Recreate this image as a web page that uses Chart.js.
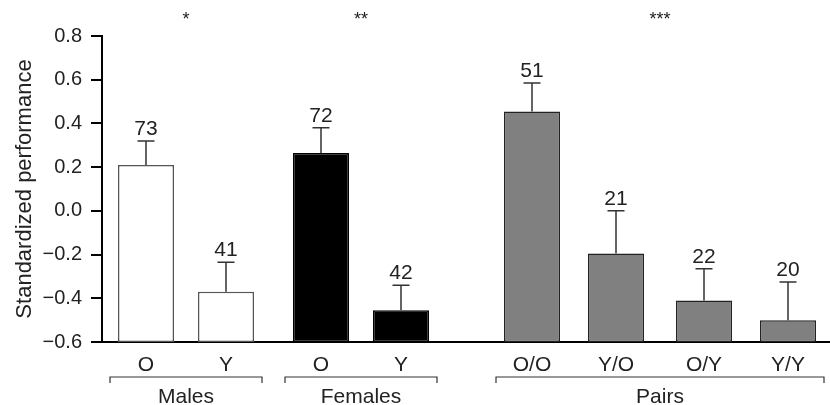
<!DOCTYPE html>
<html>
<head>
<meta charset="utf-8">
<script src="https://cdn.jsdelivr.net/npm/chart.js@4.4.1/dist/chart.umd.min.js"></script>
<style>
  html, body { margin: 0; padding: 0; background: #fff; }
  #wrap { width: 830px; height: 405px; }
</style>
</head>
<body>
<div id="wrap"><canvas id="chart"></canvas></div>
<script>
// data
const barLabels = ["O", "Y", "O", "Y", "O/O", "Y/O", "O/Y", "Y/Y"];
const means = [0.21, -0.37, 0.265, -0.455, 0.455, -0.195, -0.41, -0.50];
const errTop = [0.32, -0.235, 0.38, -0.34, 0.585, 0.0, -0.265, -0.325];
const counts = [73, 41, 72, 42, 51, 21, 22, 20];
const groupNames = ["Males", "Females", "Pairs"];
const groupStars = ["*", "**", "***"];
const groupFirst = [0, 2, 4];
const groupLast = [1, 3, 7];
const yMin = -0.6, yMax = 0.8, yStep = 0.2;

// layout / style
const slotX = [44, 124, 219, 299, 430, 514, 602, 686];
const xRange = 728;
const barW = 56;
const barFill = ["#ffffff", "#ffffff", "#000000", "#000000", "#808080", "#808080", "#808080", "#808080"];
const barEdge = ["#555555", "#555555", "#000000", "#000000", "#222222", "#222222", "#222222", "#222222"];
const FONT = "'Liberation Sans', Arial, sans-serif";
const INK = "#222";

document.addEventListener("DOMContentLoaded", function () {
  const ctx = document.getElementById("chart");

  const extras = {
    id: "extras",
    afterDatasetsDraw(chart) {
      const c = chart.ctx;
      const x = chart.scales.x, y = chart.scales.y;
      c.save();

      // error bars + n labels
      c.strokeStyle = "#333";
      c.lineWidth = 1.5;
      c.fillStyle = INK;
      c.font = "21px " + FONT;
      c.textAlign = "center";
      c.textBaseline = "alphabetic";
      for (let i = 0; i < means.length; i++) {
        const px = x.getPixelForValue(slotX[i]);
        const py0 = y.getPixelForValue(means[i]);
        const py1 = y.getPixelForValue(errTop[i]);
        c.beginPath();
        c.moveTo(px, py0);
        c.lineTo(px, py1);
        c.moveTo(px - 8.5, py1);
        c.lineTo(px + 8.5, py1);
        c.stroke();
        c.fillText(String(counts[i]), px, py1 - 6);
      }

      // group brackets, names and stars
      const bracketY = 377;
      c.strokeStyle = "#333";
      c.lineWidth = 1.2;
      for (let g = 0; g < groupNames.length; g++) {
        const left = x.getPixelForValue(slotX[groupFirst[g]]) - barW / 2 - 8;
        const right = x.getPixelForValue(slotX[groupLast[g]]) + barW / 2 + 8;
        c.beginPath();
        c.moveTo(left, bracketY + 6);
        c.lineTo(left, bracketY);
        c.lineTo(right, bracketY);
        c.lineTo(right, bracketY + 6);
        c.stroke();
        const mid = (left + right) / 2;
        c.font = "21px " + FONT;
        c.textBaseline = "alphabetic";
        c.fillText(groupNames[g], mid, 403);
        c.font = "18px " + FONT;
        c.textBaseline = "middle";
        c.fillText(groupStars[g], mid, 20);
      }
      c.restore();
    }
  };

  new Chart(ctx, {
    type: "bar",
    data: {
      datasets: [{
        data: means.map((m, i) => ({ x: slotX[i], y: [yMin, m] })),
        backgroundColor: barFill,
        borderColor: barEdge,
        borderWidth: 1.5,
        borderSkipped: false,
        inflateAmount: 0,
        barThickness: barW
      }]
    },
    options: {
      responsive: true,
      maintainAspectRatio: false,
      animation: false,
      layout: { padding: { top: 36, right: 0, left: 0, bottom: 0 } },
      plugins: {
        legend: { display: false },
        tooltip: { enabled: false }
      },
      scales: {
        x: {
          type: "linear",
          min: 0,
          max: xRange,
          offset: false,
          z: 1,
          afterBuildTicks: (scale) => { scale.ticks = slotX.map(v => ({ value: v })); },
          afterFit: (scale) => { scale.height = 63; },
          grid: { display: false },
          border: { display: true, color: "#000", width: 2 },
          ticks: {
            color: INK,
            font: { family: FONT, size: 21 },
            padding: 3,
            maxRotation: 0,
            autoSkip: false,
            callback: (v, i) => barLabels[i]
          }
        },
        y: {
          min: yMin,
          max: yMax,
          afterFit: (scale) => { scale.width = 102; },
          afterBuildTicks: (scale) => {
            const t = [];
            for (let k = 0; k <= Math.round((yMax - yMin) / yStep); k++) t.push({ value: yMin + k * yStep });
            scale.ticks = t;
          },
          grid: { drawOnChartArea: false, drawTicks: true, tickLength: 11, color: "#000", lineWidth: 2 },
          border: { display: true, color: "#000", width: 2 },
          ticks: {
            color: INK,
            font: { family: FONT, size: 20 },
            padding: 9,
            callback: (v) => { const s = Number(v).toFixed(1); return s.replace("-", "\u2212"); }
          },
          title: {
            display: true,
            text: "Standardized performance",
            color: INK,
            font: { family: FONT, size: 22 },
            padding: { top: 12, bottom: 0 }
          }
        }
      }
    },
    plugins: [extras]
  });
});
</script>
</body>
</html>
